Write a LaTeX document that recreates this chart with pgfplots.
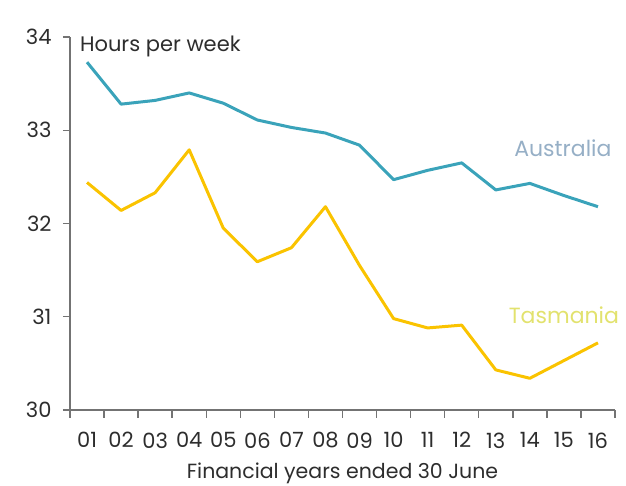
\documentclass[border=0pt]{standalone}
\usepackage{pgfplots}
\pgfplotsset{compat=1.18}
\usepackage{fontspec}
\setmainfont{Poppins}
\definecolor{ausline}{RGB}{58,163,186}
\definecolor{tasline}{RGB}{250,195,0}
\definecolor{auslab}{RGB}{150,175,198}
\definecolor{taslab}{RGB}{226,226,110}
\definecolor{axgray}{RGB}{115,115,115}
\definecolor{txt}{RGB}{45,45,45}
\begin{document}
\begin{tikzpicture}
\begin{axis}[
  scale only axis,
  width=545pt, height=373pt,
  at={(0,0)}, anchor=south west,
  xmin=0.5, xmax=16.5, ymin=30, ymax=34,
  axis x line*=bottom, axis y line*=left,
  axis line style={draw=axgray, line width=1.6pt, -},
  xtick={1,...,16},
  xticklabels={01,02,03,04,05,06,07,08,09,10,11,12,13,14,15,16},
  major x tick style={draw=none},
  minor xtick={0.5,1.5,...,16.5},
  minor x tick style={draw=axgray, line width=1.4pt},
  ytick={30,31,32,33,34},
  y tick style={draw=axgray, line width=1.4pt},
  tick align=outside,
  major tick length=7pt, minor tick length=8pt,
  /pgf/number format/assume math mode=true,
  ticklabel style={font=\fontsize{21}{21}\selectfont, text=txt},
  xticklabel style={yshift=-12pt},
  yticklabel style={xshift=-8pt},
  xlabel={Financial years ended 30 June},
  xlabel style={font=\fontsize{20.5}{20.5}\selectfont, text=txt, yshift=-8pt},
  clip=false,
]
\addplot[ausline, line width=3pt, line join=round] coordinates {
(1,33.73) (2,33.28) (3,33.32) (4,33.40) (5,33.29) (6,33.11) (7,33.03) (8,32.97)
(9,32.84) (10,32.47) (11,32.57) (12,32.65) (13,32.36) (14,32.43) (15,32.30) (16,32.18)};
\addplot[tasline, line width=3pt, line join=round] coordinates {
(1,32.44) (2,32.14) (3,32.33) (4,32.79) (5,31.95) (6,31.59) (7,31.74) (8,32.18)
(9,31.55) (10,30.98) (11,30.88) (12,30.91) (13,30.43) (14,30.34) (15,30.53) (16,30.72)};
\node[anchor=west, font=\fontsize{21}{21}\selectfont, text=txt, inner sep=0pt] at (axis cs:0.79,33.90) {Hours per week};
\node[font=\fontsize{22}{22}\selectfont, text=auslab, inner sep=0pt] at (axis cs:14.97,32.81) {Australia};
\node[font=\fontsize{22}{22}\selectfont, text=taslab, inner sep=0pt] at (axis cs:15.0,31.02) {Tasmania};
\end{axis}
\pgfresetboundingbox
\path[use as bounding box] (-70pt,-76pt) rectangle (556pt,410pt);
\end{tikzpicture}
\end{document}
